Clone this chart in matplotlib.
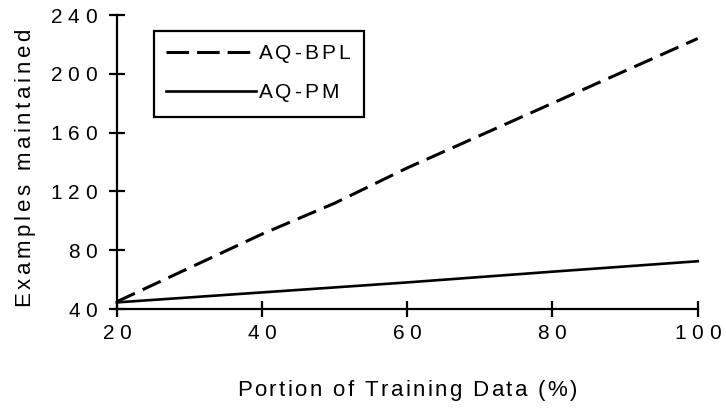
import numpy as np
import matplotlib
matplotlib.use('Agg')
import matplotlib.pyplot as plt
from matplotlib.ticker import FuncFormatter

plt.rcParams['font.family'] = ['Liberation Sans', 'DejaVu Sans']

# examples kept in memory vs. share of training data
portion_bpl = [20, 40, 50, 60, 80, 100]
kept_bpl = [45, 91, 112, 136, 180, 224]
portion_pm = [20, 40, 60, 80, 100]
kept_pm = [44.5, 51.3, 58.1, 65.4, 72.5]

x_ticks = [20, 40, 60, 80, 100]
y_ticks = [40, 80, 120, 160, 200, 240]


def track(s, em):
    """Letter-spaced string: a small mathtext gap between every character."""
    return (r'$\hspace{%.2f}$' % em).join(s)


fig = plt.figure(figsize=(7.26, 4.08), dpi=100)
ax = fig.add_axes([0.161, 0.2426, 0.8, 0.7206])

ax.plot(portion_bpl, kept_bpl, color='black', lw=2.2,
        linestyle=(0, (6.5, 2.8)), dash_capstyle='butt',
        label=track('AQ-BPL', 0.15), clip_on=False)
ax.plot(portion_pm, kept_pm, color='black', lw=1.9,
        label=track('AQ-PM', 0.15), clip_on=False)

ax.set_xlim(20, 100)
ax.set_ylim(40, 240)
ax.set_xticks(x_ticks)
ax.set_yticks(y_ticks)
spaced = FuncFormatter(lambda v, pos: track(str(int(v)), 0.3))
ax.xaxis.set_major_formatter(spaced)
ax.yaxis.set_major_formatter(spaced)

for side in ['top', 'right']:
    ax.spines[side].set_visible(False)
for side in ['left', 'bottom']:
    ax.spines[side].set_linewidth(1.6)
ax.tick_params(direction='inout', length=11, width=1.6, labelsize=15)
ax.tick_params(axis='x', pad=5)
ax.tick_params(axis='y', pad=8)

ax.set_xlabel(track('Portion of Training Data (%)', 0.11), fontsize=16)
ax.set_ylabel(track('Examples maintained', 0.17), fontsize=16)
ax.xaxis.set_label_coords(0.5, -0.235)
ax.yaxis.set_label_coords(-0.135, 0.48)

leg = ax.legend(loc='upper left', bbox_to_anchor=(0.0637, 0.946),
                borderaxespad=0, fancybox=False, framealpha=1,
                edgecolor='black', fontsize=15, handlelength=4.3,
                handletextpad=0.1, borderpad=0.6, labelspacing=0.8)
leg.get_frame().set_linewidth(1.6)
# three whole dashes in the legend sample, with a gap before the text
leg.get_lines()[0].set_dashes([7.4, 2.6])

fig.savefig('out.png', dpi=100)
